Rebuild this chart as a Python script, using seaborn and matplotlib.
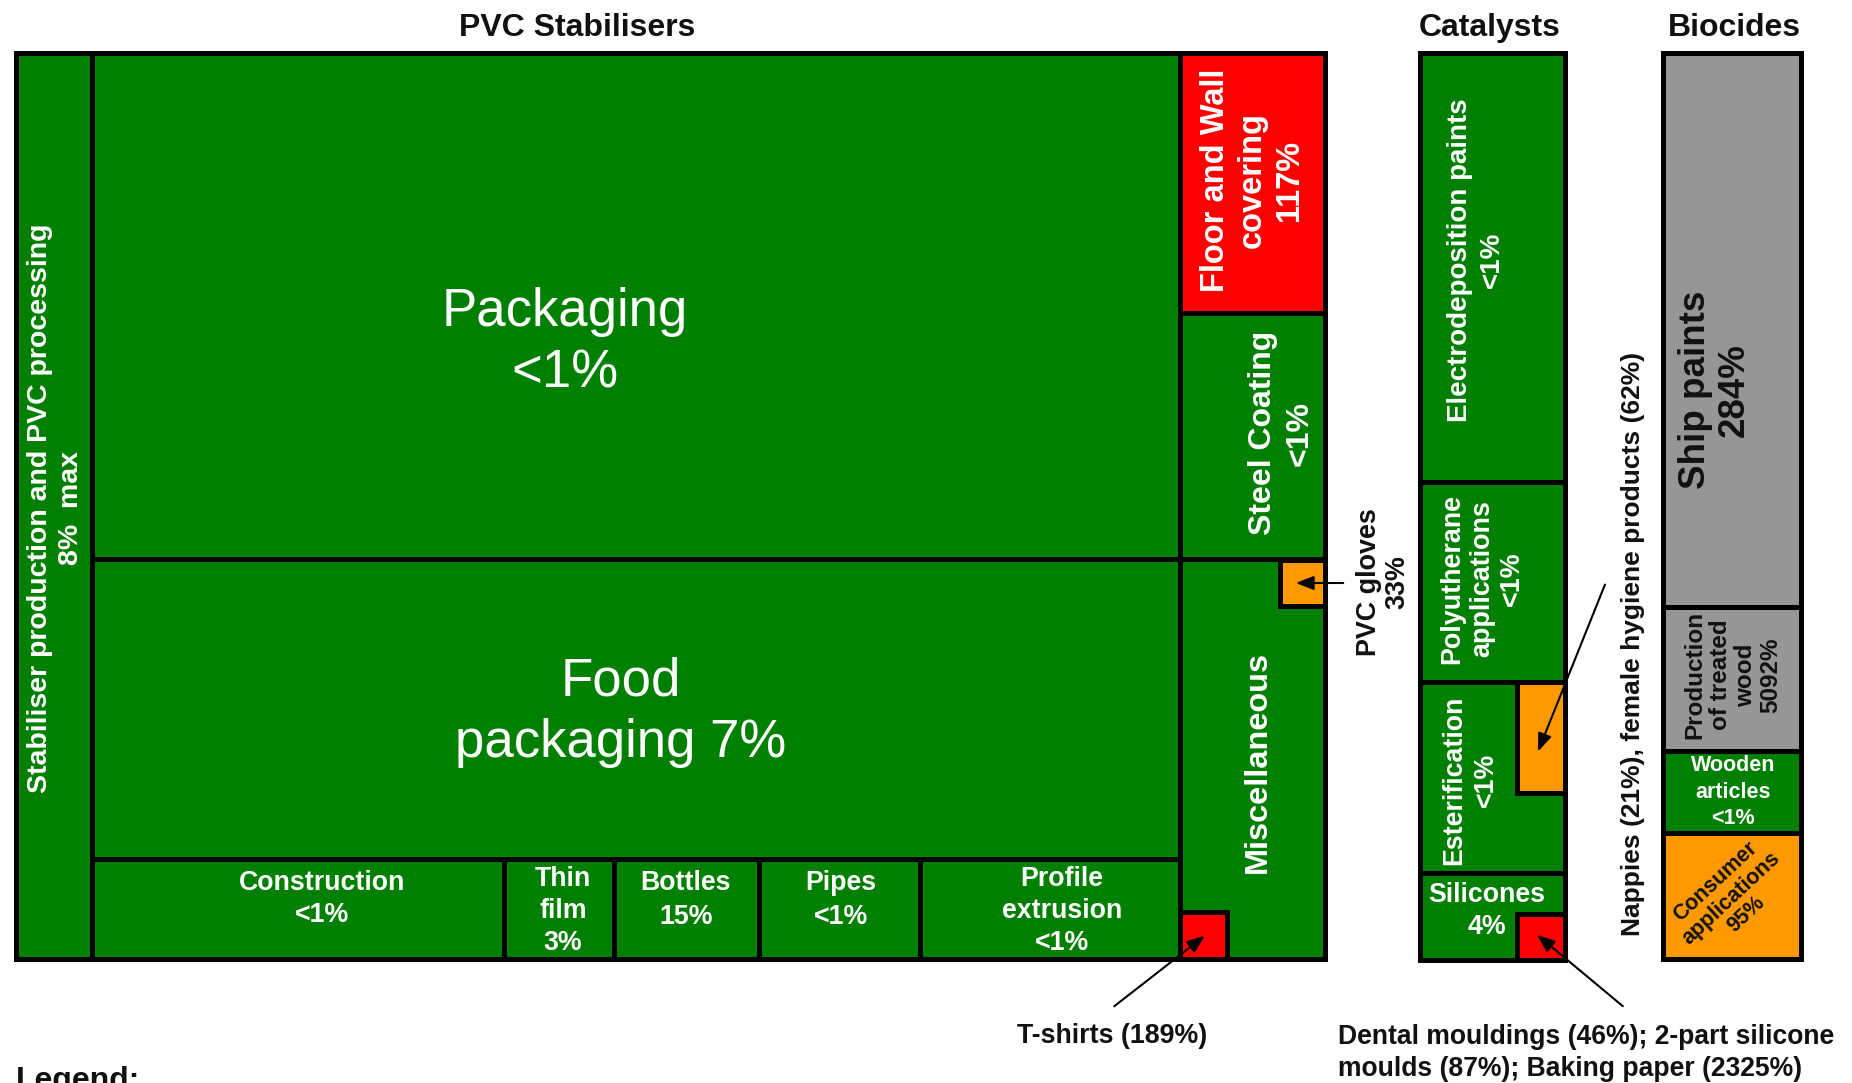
import matplotlib
matplotlib.use("Agg")
import matplotlib.pyplot as plt
import seaborn as sns
import pandas as pd

# ---------------- data ----------------
group_titles = ["PVC Stabilisers", "Catalysts", "Biocides"]

cell_names = [
    "Stabiliser production", "Packaging", "Food packaging", "Construction",
    "Thin film", "Bottles", "Pipes", "Profile extrusion",
    "Floor and Wall covering", "Steel Coating", "Miscellaneous",
    "PVC gloves", "T-shirts",
    "Electrodeposition paints", "Polyutherane applications", "Esterification",
    "Silicones", "Nappies", "Dental mouldings",
    "Ship paints", "Production of treated wood", "Wooden articles",
    "Consumer applications",
]
cell_group = ["PVC Stabilisers"] * 13 + ["Catalysts"] * 6 + ["Biocides"] * 4
cell_rating = [
    "low", "low", "low", "low", "low", "low", "low", "low",
    "high", "low", "low", "medium", "high",
    "low", "low", "low", "low", "medium", "high",
    "other", "other", "low", "medium",
]
# cell extents in layout units (treemap areas)
cell_x0 = [16, 92, 92, 92, 504, 614, 759, 920, 1180, 1180, 1180, 1280, 1180,
           1420, 1420, 1420, 1420, 1517, 1517, 1663, 1663, 1663, 1663]
cell_x1 = [92, 1180, 1180, 504, 614, 759, 920, 1180, 1325, 1325, 1325, 1325, 1227,
           1565, 1565, 1565, 1565, 1565, 1565, 1801, 1801, 1801, 1801]
cell_y0 = [53, 53, 559, 859, 859, 859, 859, 859, 53, 313, 559, 560, 912,
           53, 482, 682, 873, 682, 914, 53, 607, 751, 833]
cell_y1 = [959, 559, 859, 959, 959, 959, 959, 959, 313, 559, 959, 606, 959,
           482, 682, 873, 960, 793, 960, 607, 751, 833, 959]

cell_text = [
    "Stabiliser production and PVC processing\n8%  max",
    "Packaging\n<1%", "Food\npackaging 7%", "Construction\n<1%",
    "Thin\nfilm\n3%", "Bottles\n15%", "Pipes\n<1%", "Profile\nextrusion\n<1%",
    "Floor and Wall\ncovering\n117%", "Steel Coating\n<1%", "Miscellaneous",
    "", "",
    "Electrodeposition paints\n<1%", "Polyutherane\napplications\n<1%",
    "Esterification\n<1%", "Silicones\n4%", "", "",
    "Ship paints\n284%", "Production\nof treated\nwood\n5092%",
    "Wooden\narticles\n<1%", "Consumer\napplications\n95%",
]

callout_text = [
    "PVC gloves\n33%",
    "T-shirts (189%)",
    "Nappies (21%), female hygiene products (62%)",
    "Dental mouldings (46%); 2-part silicone\nmoulds (87%); Baking paper (2325%)",
]

df = pd.DataFrame({"name": cell_names, "group": cell_group, "rating": cell_rating,
                   "x0": cell_x0, "x1": cell_x1, "y0": cell_y0, "y1": cell_y1,
                   "text": cell_text})

# ---------------- style ----------------
sns.set_theme(style="white")
plt.rcParams["font.family"] = ["Liberation Sans", "DejaVu Sans"]

palette = {"low": "#007F00", "high": "#FF0000", "medium": "#FF9900", "other": "#969696"}
dark = "#111111"

W, H = 1852, 1083
fig = plt.figure(figsize=(W / 100, H / 100), dpi=100)
ax = fig.add_axes([0, 0, 1, 1])
ax.set_xlim(0, W)
ax.set_ylim(H, 0)
ax.axis("off")

for _, r in df.iterrows():
    ax.bar(r.x0, r.y1 - r.y0, width=r.x1 - r.x0, bottom=r.y0, align="edge",
           color=palette[r.rating], edgecolor="black", linewidth=3.6, zorder=2)

# label placement (text anchor, rotation, size, weight, line spacing)
label_style = {
    "Stabiliser production": dict(x=56, y=508, rot=90, size=20.5, weight="bold", ls=1.25),
    "Packaging": dict(x=565, y=343, rot=0, size=38, weight="normal", ls=1.3),
    "Food packaging": dict(x=621, y=712, rot=0, size=38, weight="normal", ls=1.3),
    "Construction": dict(x=322, y=899, rot=0, size=19.3, weight="bold", ls=1.35),
    "Thin film": dict(x=563, y=911, rot=0, size=19.3, weight="bold", ls=1.3),
    "Bottles": dict(x=686, y=900, rot=0, size=19.3, weight="bold", ls=1.35),
    "Pipes": dict(x=841, y=900, rot=0, size=19.3, weight="bold", ls=1.35),
    "Profile extrusion": dict(x=1062, y=911, rot=0, size=19.3, weight="bold", ls=1.3),
    "Floor and Wall covering": dict(x=1252, y=180, rot=90, size=23.5, weight="bold", ls=1.25),
    "Steel Coating": dict(x=1281, y=433, rot=90, size=23, weight="bold", ls=1.3),
    "Miscellaneous": dict(x=1258, y=762, rot=90, size=23.4, weight="bold", ls=1.3),
    "Electrodeposition paints": dict(x=1476, y=260, rot=90, size=20, weight="bold", ls=1.3),
    "Polyutherane applications": dict(x=1482, y=579, rot=90, size=19.4, weight="bold", ls=1.2),
    "Esterification": dict(x=1470, y=780, rot=90, size=19.3, weight="bold", ls=1.3),
    "Silicones": dict(x=1487, y=911, rot=0, size=19.3, weight="bold", ls=1.35),
    "Ship paints": dict(x=1715, y=390, rot=90, size=26.5, weight="bold", ls=1.15),
    "Production of treated wood": dict(x=1733, y=675, rot=90, size=17.5, weight="bold", ls=1.12),
    "Wooden articles": dict(x=1733, y=792, rot=0, size=15.5, weight="bold", ls=1.35),
    "Consumer applications": dict(x=1731, y=898, rot=43, size=15.5, weight="bold", ls=1.1),
}

for _, r in df.iterrows():
    if not r.text:
        continue
    s = label_style[r["name"]]
    col = dark if r.rating in ("other", "medium") else "white"
    ax.text(s["x"], s["y"], r.text, rotation=s["rot"], fontsize=s["size"],
            fontweight=s["weight"], color=col, ha="center", va="center",
            multialignment="center", linespacing=s["ls"], zorder=5,
            rotation_mode="anchor")

# group titles
title_x = [577, 1490, 1734]
for t, x in zip(group_titles, title_x):
    ax.text(x, 28, t, fontsize=23, fontweight="bold", color=dark,
            ha="center", va="center", zorder=5)

arrow = dict(arrowstyle="-|>,head_length=0.9,head_width=0.35", color="black", lw=1.5)

# call-outs
ax.text(1383, 582, callout_text[0], rotation=90, fontsize=19.4, fontweight="bold",
        color=dark, ha="center", va="center", multialignment="center",
        linespacing=1.15, rotation_mode="anchor")
ax.annotate("", xy=(1293, 583), xytext=(1346, 583), arrowprops=arrow, zorder=6)

ax.text(1112, 1036, callout_text[1], fontsize=19.3, fontweight="bold",
        color=dark, ha="center", va="center")
ax.annotate("", xy=(1207, 934), xytext=(1112, 1008), arrowprops=arrow, zorder=6)

ax.text(1633, 644, callout_text[2], rotation=90, fontsize=19, fontweight="bold",
        color=dark, ha="center", va="center", rotation_mode="anchor")
ax.annotate("", xy=(1537, 754), xytext=(1606, 582), arrowprops=arrow, zorder=6)

ax.text(1338, 1053, callout_text[3], fontsize=19.1, fontweight="bold",
        color=dark, ha="left", va="center", linespacing=1.3)
ax.annotate("", xy=(1535, 933), xytext=(1625, 1008), arrowprops=arrow, zorder=6)

ax.text(16, 1066, "Legend:", fontsize=23, fontweight="bold", color=dark,
        ha="left", va="top")

fig.savefig("out.png", dpi=100)
